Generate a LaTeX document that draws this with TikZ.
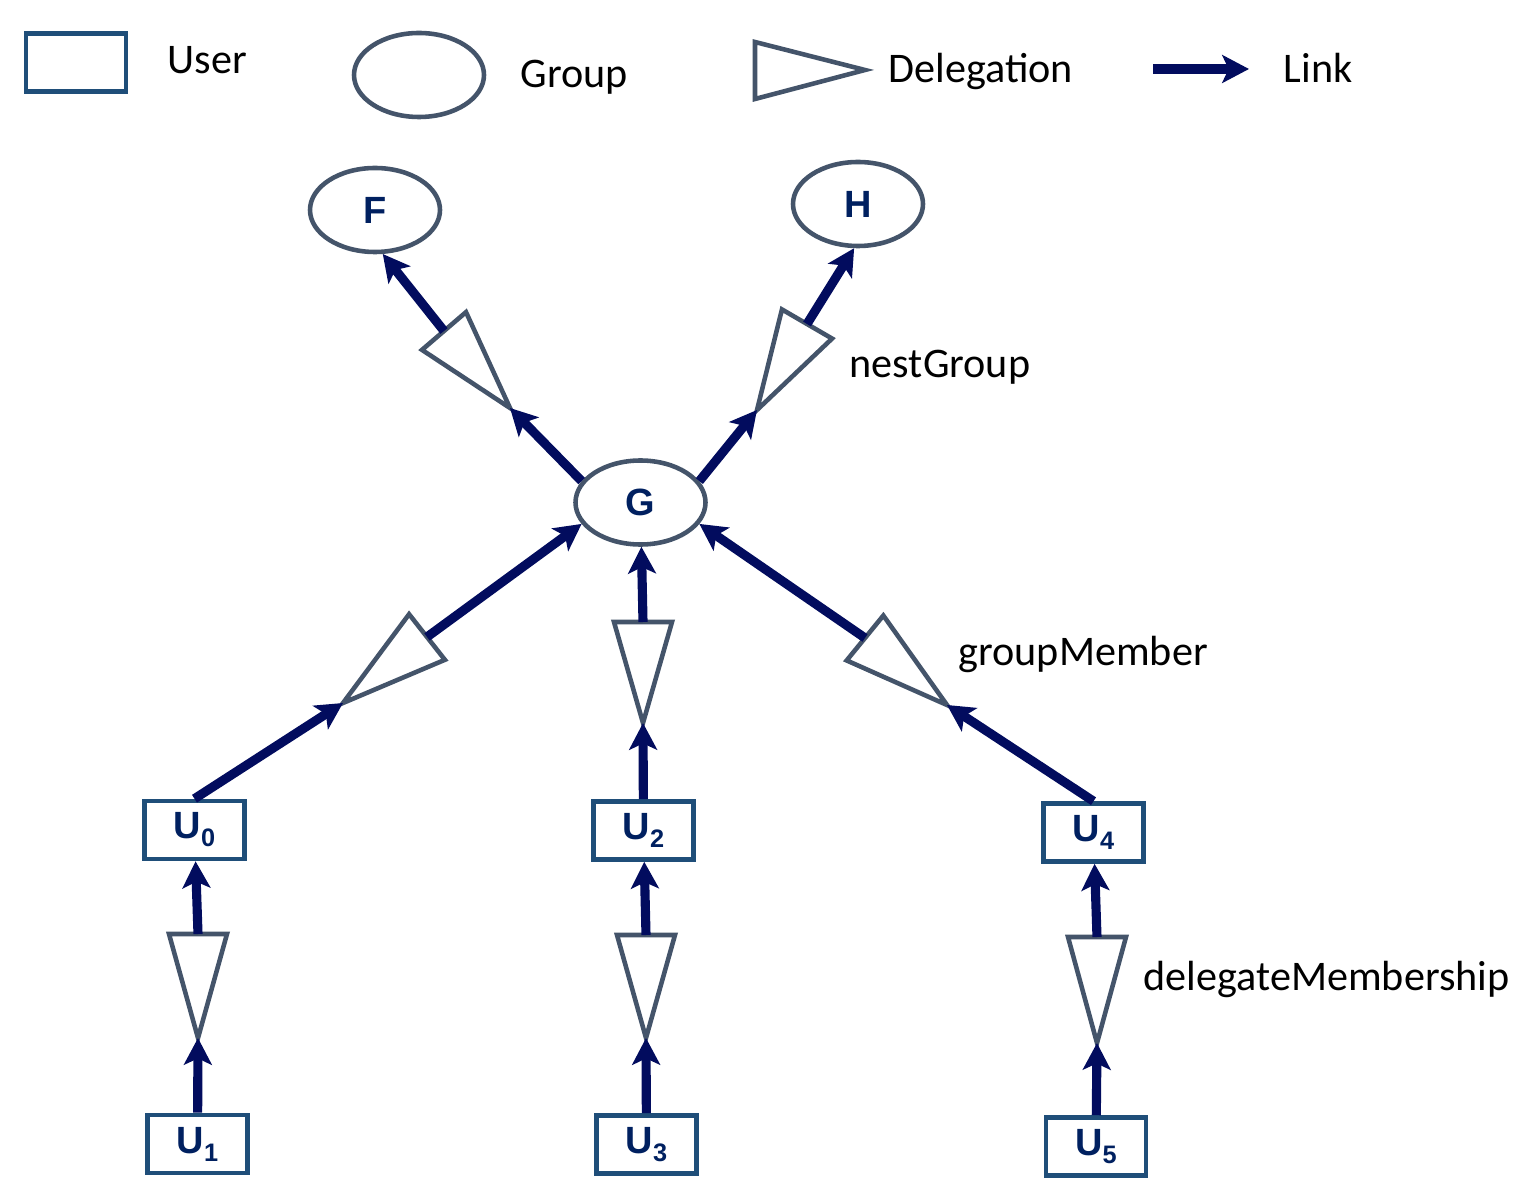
\documentclass[tikz,border=0pt]{standalone}
\usepackage{fontspec}
\setmainfont{Carlito}
\newfontfamily\nodefont{Liberation Sans}
\usepackage{tikz}
\usetikzlibrary{shapes,shapes.geometric}
\usetikzlibrary{positioning,calc,arrows.meta}

\definecolor{userblue}{RGB}{31,78,121}
\definecolor{groupgray}{RGB}{68,84,106}
\definecolor{linknavy}{RGB}{2,12,94}
\definecolor{labelnavy}{RGB}{0,32,96}

\tikzset{
  user/.style={rectangle,draw=userblue,line width=1.3pt,minimum width=1.0cm,minimum height=0.58cm,
    inner sep=0pt,text=labelnavy,font=\nodefont\bfseries\fontsize{10.8}{12}\selectfont},
  group/.style={ellipse,draw=groupgray,line width=1.3pt,minimum width=1.30cm,minimum height=0.84cm,
    inner sep=0pt,text=labelnavy,font=\nodefont\bfseries\fontsize{10.8}{12}\selectfont},
  deleg/.style={draw=groupgray,line width=1.3pt,fill=white,line join=miter},
  link/.style={draw=linknavy,line width=2.6pt,-{Stealth[length=7.6pt,width=7.9pt,inset=1.8pt]}},
  lbl/.style={inner sep=0pt,anchor=base west,font=\fontsize{12}{14}\selectfont}
}
\newcommand{\uname}[1]{U\lower2.3pt\hbox{\fontsize{7.2}{7.2}\selectfont #1}}

\begin{document}
\begin{tikzpicture}
\useasboundingbox (0,0) rectangle (15.18,11.77);
% legend
\draw(0.76,11.145) node[user] (lguser) {};
\draw(1.67,11.03) node[lbl] (tuser) {User};
\draw(4.19,11.02) node[group] (lgroup) {};
\draw(5.20,10.89) node[lbl] (tgroup) {Group};
\draw[deleg] (7.55,11.35) -- (8.65,11.07) -- (7.55,10.78) -- cycle;
\draw(8.88,10.94) node[lbl] (tdeleg) {Delegation};
\coordinate (lk1) at (11.53,11.08);
\coordinate (lk2) at (12.49,11.08);
\draw[link] (lk1) -- (lk2);
\draw(12.83,10.94) node[lbl] (tlink) {Link};

% groups
\draw(3.75,9.67) node[group] (F) {F};
\draw(8.58,9.73) node[group] (H) {H};
\draw(6.405,6.745) node[group] (G) {G};

% users
\draw(1.945,3.47) node[user] (U0) {\uname{0}};
\draw(1.975,0.33) node[user] (U1) {\uname{1}};
\draw(6.435,3.465) node[user] (U2) {\uname{2}};
\draw(6.465,0.325) node[user] (U3) {\uname{3}};
\draw(10.935,3.445) node[user] (U4) {\uname{4}};
\draw(10.96,0.305) node[user] (U5) {\uname{5}};

% delegations: a = tip, b = middle of base
\coordinate (d0a) at (3.43,4.74);  \coordinate (d0b) at (4.27,5.40);
\coordinate (d1a) at (1.98,1.39);  \coordinate (d1b) at (1.98,2.43);
\coordinate (d2a) at (6.43,4.54);  \coordinate (d2b) at (6.43,5.55);
\coordinate (d3a) at (6.46,1.39);  \coordinate (d3b) at (6.46,2.42);
\coordinate (d4a) at (9.47,4.72);  \coordinate (d4b) at (8.65,5.39);
\coordinate (d5a) at (10.97,1.34); \coordinate (d5b) at (10.97,2.40);
\coordinate (dFa) at (5.10,7.69);  \coordinate (dFb) at (4.44,8.46);
\coordinate (dHa) at (7.57,7.67);  \coordinate (dHb) at (8.07,8.53);

\draw[deleg] (d0a) -- ($(d0b)!0.29cm!90:(d0a)$) -- ($(d0b)!0.29cm!-90:(d0a)$) -- cycle;
\draw[deleg] (d1a) -- ($(d1b)!0.29cm!90:(d1a)$) -- ($(d1b)!0.29cm!-90:(d1a)$) -- cycle;
\draw[deleg] (d2a) -- ($(d2b)!0.29cm!90:(d2a)$) -- ($(d2b)!0.29cm!-90:(d2a)$) -- cycle;
\draw[deleg] (d3a) -- ($(d3b)!0.29cm!90:(d3a)$) -- ($(d3b)!0.29cm!-90:(d3a)$) -- cycle;
\draw[deleg] (d4a) -- ($(d4b)!0.29cm!90:(d4a)$) -- ($(d4b)!0.29cm!-90:(d4a)$) -- cycle;
\draw[deleg] (d5a) -- ($(d5b)!0.29cm!90:(d5a)$) -- ($(d5b)!0.29cm!-90:(d5a)$) -- cycle;
\draw[deleg] (dFa) -- ($(dFb)!0.29cm!90:(dFa)$) -- ($(dFb)!0.29cm!-90:(dFa)$) -- cycle;
\draw[deleg] (dHa) -- ($(dHb)!0.29cm!90:(dHa)$) -- ($(dHb)!0.29cm!-90:(dHa)$) -- cycle;

% links
\draw[link] (U1) -- (d1a);
\draw[link] (d1b) -- (U0);
\draw[link] (U3) -- (d3a);
\draw[link] (d3b) -- (U2);
\draw[link] (U5) -- (d5a);
\draw[link] (d5b) -- (U4);
\draw[link] (U0.north) -- (d0a);
\draw[link] (d0b) -- (G.200);
\draw[link] (U2) -- (d2a);
\draw[link] (d2b) -- (G);
\draw[link] (U4.north) -- (d4a);
\draw[link] (d4b) -- (G.-20);
\draw[link] (G.160) -- (dFa);
\draw[link] (dFb) -- (F.-80);
\draw[link] (G.20) -- (dHa);
\draw[link] (dHb) -- (H.-95);

% relation names
\draw(8.49,7.99) node[lbl] (tnest) {nestGroup};
\draw(9.58,5.115) node[lbl] (tmember) {groupMember};
\draw(11.43,1.865) node[lbl] (tdelegm) {delegateMembership};
\end{tikzpicture}
\end{document}
